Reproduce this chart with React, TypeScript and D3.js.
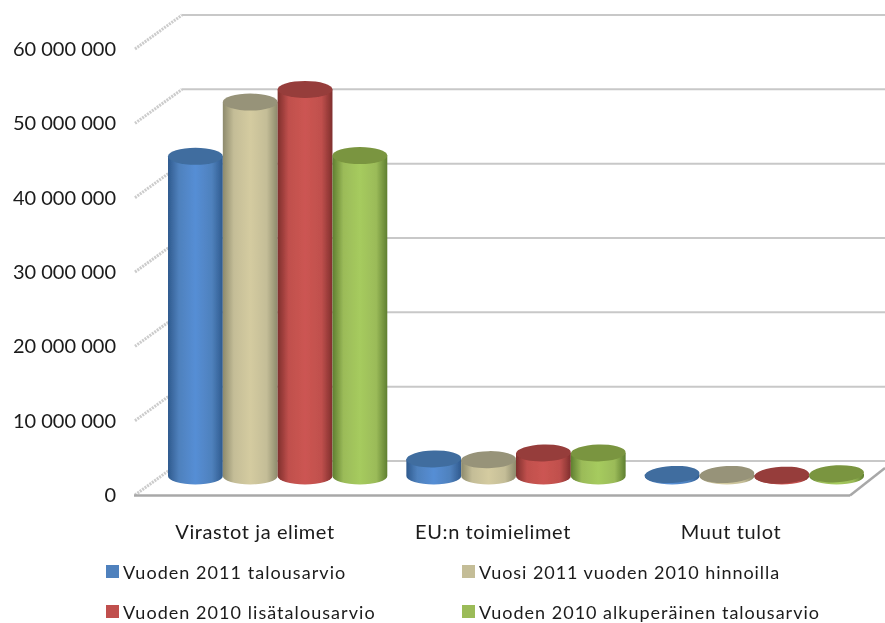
import React from "react";
import * as d3 from "d3";

const categories = ["Virastot ja elimet", "EU:n toimielimet", "Muut tulot"];
const seriesNames = [
  "Vuoden 2011 talousarvio",
  "Vuosi 2011 vuoden 2010 hinnoilla",
  "Vuoden 2010 lisätalousarvio",
  "Vuoden 2010 alkuperäinen talousarvio",
];
const s2011 = [43000000, 2300000, 200000];
const s2011p = [50300000, 2200000, 200000];
const s2010l = [52000000, 3100000, 100000];
const s2010a = [43100000, 3100000, 300000];
const seriesValues = [s2011, s2011p, s2010l, s2010a];
const tickValues = [0, 10000000, 20000000, 30000000, 40000000, 50000000, 60000000];
const tickLabels = ["0", "10 000 000", "20 000 000", "30 000 000", "40 000 000", "50 000 000", "60 000 000"];
const discTilt = [0, -1.5, -3];

const colors = [
  { mid: "#558ed5", edge: "#2f5a8e", top: "#3f6d9f", solid: "#4f81bd" },
  { mid: "#d4cba0", edge: "#8d8a6c", top: "#979379", solid: "#c4bd97" },
  { mid: "#cc5552", edge: "#7f2f2d", top: "#963c3a", solid: "#c0504d" },
  { mid: "#a6cb5e", edge: "#5f7f30", top: "#7a953f", solid: "#9bbb59" },
];

const font = "Lato, 'Open Sans', sans-serif";

export default function App() {
  const frontY = d3.scaleLinear().domain([0, 60000000]).range([495, 49]);
  const backY = d3.scaleLinear().domain([0, 60000000]).range([461, 15]);
  const barY = d3.scaleLinear().domain([0, 60000000]).range([476, 30]);
  const cat = d3.scaleBand<number>().domain([0, 1, 2]).range([168, 864]).paddingInner(0.08);
  const ser = d3.scaleBand<number>().domain([0, 1, 2, 3]).range([0, cat.bandwidth()]);
  const catLabelX = [255, 493, 731];
  const ry = 8.5;

  return (
    <svg width={885} height={623} style={{ position: "absolute", left: 0, top: 0, background: "#fff" }}>
      <defs>
        {colors.map((c, i) => (
          <linearGradient key={i} id={`g${i}`} x1="0" x2="1" y1="0" y2="0">
            <stop offset="0" stopColor={c.edge} />
            <stop offset="0.2" stopColor={c.solid} />
            <stop offset="0.5" stopColor={c.mid} />
            <stop offset="0.8" stopColor={c.solid} />
            <stop offset="1" stopColor={c.edge} />
          </linearGradient>
        ))}
        <filter id="soft" x="-5%" y="-5%" width="110%" height="110%">
          <feGaussianBlur stdDeviation="0.7" />
        </filter>
        <filter id="softText" x="-5%" y="-5%" width="110%" height="110%">
          <feGaussianBlur stdDeviation="0.3" />
        </filter>
      </defs>

      <g filter="url(#soft)">
        {tickValues.map((t) => (
          <g key={t}>
            <line x1={182} x2={885} y1={backY(t)} y2={backY(t)} stroke="#c8c8c8" strokeWidth={2} />
            <line x1={135} x2={182} y1={frontY(t)} y2={backY(t)} stroke="#cccccc" strokeWidth={3} strokeDasharray="2 1" />
          </g>
        ))}
        <line x1={134} x2={850} y1={495.5} y2={495.5} stroke="#a8a8a8" strokeWidth={2.5} />
        <line x1={850} x2={885} y1={495.5} y2={468} stroke="#a8a8a8" strokeWidth={2.5} />

        {categories.map((_, ci) =>
          seriesValues.map((vals, si) => {
            const x0 = cat(ci)! + ser(si)!;
            const w = ser.bandwidth();
            const cx = x0 + w / 2;
            const topY = barY(vals[ci]);
            const baseY = barY(0);
            const rx = w / 2;
            const d = `M${x0},${topY}L${x0},${baseY}A${rx},${ry} 0 0 0 ${x0 + w},${baseY}L${x0 + w},${topY}Z`;
            return (
              <g key={`${ci}-${si}`}>
                <path d={d} fill={`url(#g${si})`} />
                <ellipse cx={cx} cy={topY} rx={rx} ry={ry} fill={colors[si].top} transform={`rotate(${discTilt[ci]} ${cx} ${topY})`} />
              </g>
            );
          })
        )}
      </g>

      <g filter="url(#softText)">
        {tickValues.map((t, i) => (
          <text key={t} x={116} y={frontY(t) + 7} textAnchor="end" fontFamily={font} fontSize={20} fill="#1a1a1a">
            {tickLabels[i]}
          </text>
        ))}
        {categories.map((c, i) => (
          <text key={c} x={catLabelX[i]} y={539} textAnchor="middle" fontFamily={font} fontSize={20} letterSpacing={0.6} fill="#1a1a1a">
            {c}
          </text>
        ))}
        {seriesNames.map((n, i) => {
          const lx = i % 2 === 0 ? 106 : 462;
          const ly = i < 2 ? 565 : 605;
          return (
            <g key={n}>
              <rect x={lx} y={ly} width={13} height={13} fill={colors[i].solid} />
              <text x={lx + 17} y={ly + 14} fontFamily={font} fontSize={18} letterSpacing={i === 3 ? 1 : i === 2 ? 1.05 : i === 1 ? 0.95 : 1.05} fill="#1a1a1a">
                {n}
              </text>
            </g>
          );
        })}
      </g>
    </svg>
  );
}
